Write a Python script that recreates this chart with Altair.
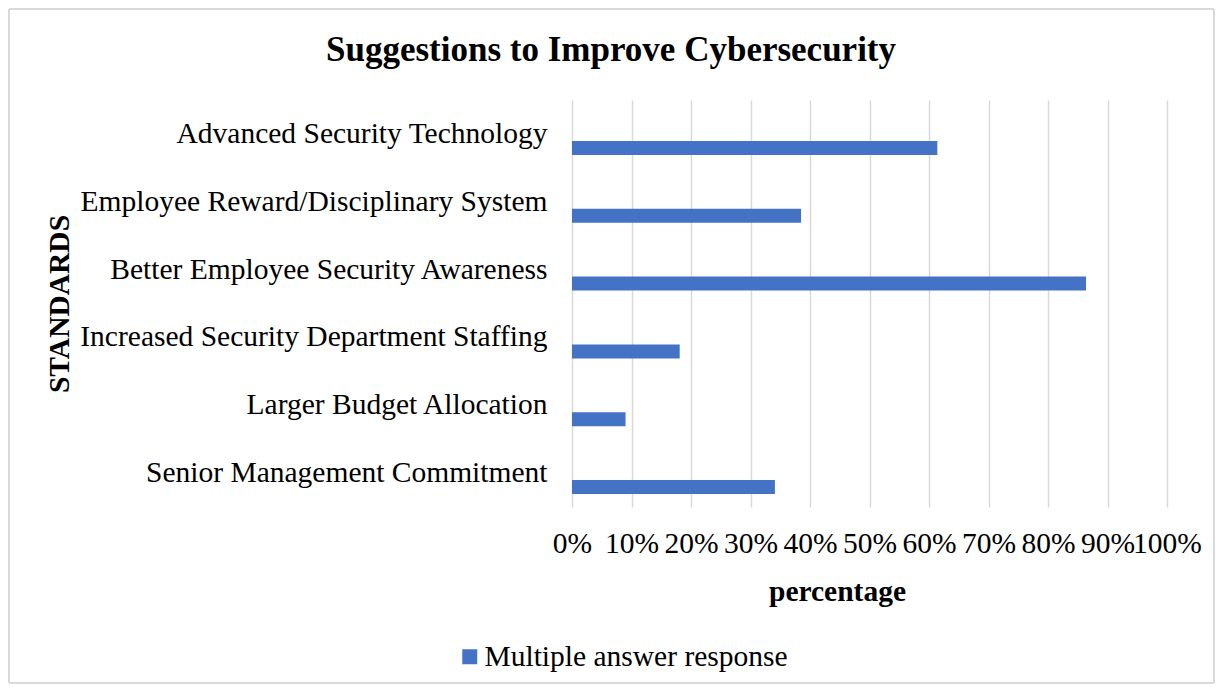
import altair as alt
import pandas as pd

title_text = "Suggestions to Improve Cybersecurity"
categories = [
    "Advanced Security Technology",
    "Employee Reward/Disciplinary System",
    "Better Employee Security Awareness",
    "Increased Security Department Staffing",
    "Larger Budget Allocation",
    "Senior Management Commitment",
]
values = [0.614, 0.385, 0.864, 0.181, 0.090, 0.341]
series_name = "Multiple answer response"
x_ticks = [0, 0.1, 0.2, 0.3, 0.4, 0.5, 0.6, 0.7, 0.8, 0.9, 1.0]

df = pd.DataFrame({"standard": categories, "pct": values, "series": series_name})
tdf = pd.DataFrame({"t": [title_text]})

FONT = "Liberation Serif"
FS = 29.5
W, H = 595, 407
PL, PT, PR, PB = 564, 92, 48, 177

bars = alt.Chart(df).mark_bar(height=14, yOffset=14, color="#4472C4").encode(
    x=alt.X(
        "pct:Q",
        scale=alt.Scale(domain=[0, 1], nice=False),
        axis=alt.Axis(
            values=x_ticks,
            format=".0%",
            title="percentage",
            titleFontWeight="bold",
            titleFontSize=FS,
            titlePadding=20,
            titleX=265,
            titleAlign="center",
            labelFontSize=FS,
            labelPadding=22,
            labelOverlap=False,
            ticks=False,
            domain=False,
            grid=True,
            gridColor="#d9d9d9",
            gridWidth=1.5,
            labelFlush=False,
        ),
    ),
    y=alt.Y(
        "standard:N",
        sort=categories,
        scale=alt.Scale(paddingInner=0, paddingOuter=0),
        axis=alt.Axis(
            title="STANDARDS",
            titleFontWeight="bold",
            titleFontSize=FS,
            titleAngle=270,
            titleX=-513,
            titleY=H / 2,
            titleAlign="center",
            titleBaseline="middle",
            labelFontSize=FS,
            labelPadding=25,
            labelLimit=700,
            ticks=False,
            domain=False,
            grid=False,
        ),
    ),
    color=alt.Color(
        "series:N",
        scale=alt.Scale(range=["#4472C4"]),
        legend=alt.Legend(
            title=None,
            orient="none",
            legendX=-117,
            legendY=542,
            labelFontSize=FS,
            symbolType="square",
            symbolSize=225,
            symbolStrokeWidth=0,
            labelOffset=0,
            labelLimit=700,
        ),
    ),
)

frame = alt.Chart(df).mark_rect(fill=None, stroke="#d9d9d9", strokeWidth=1).encode(
    x=alt.value(-563), x2=alt.value(W + PR - 1), y=alt.value(-91), y2=alt.value(H + PB - 1)
)

title = alt.Chart(tdf).mark_text(
    font=FONT, fontSize=35, fontWeight="bold", color="black", align="center", baseline="middle"
).encode(text="t:N", x=alt.value(611 - 572), y=alt.value(50 - 100))

chart = (
    alt.layer(frame, bars, title)
    .properties(
        width=W,
        height=H,
        padding={"left": PL, "top": PT, "right": PR, "bottom": PB},
        autosize=alt.AutoSizeParams(type="none"),
    )
    .configure(font=FONT)
    .configure_axis(labelFont=FONT, titleFont=FONT, labelColor="black", titleColor="black")
    .configure_legend(labelFont=FONT, labelColor="black")
    .configure_view(stroke=None)
)

chart.save("out.html", embed_options={"renderer": "svg", "actions": False})
